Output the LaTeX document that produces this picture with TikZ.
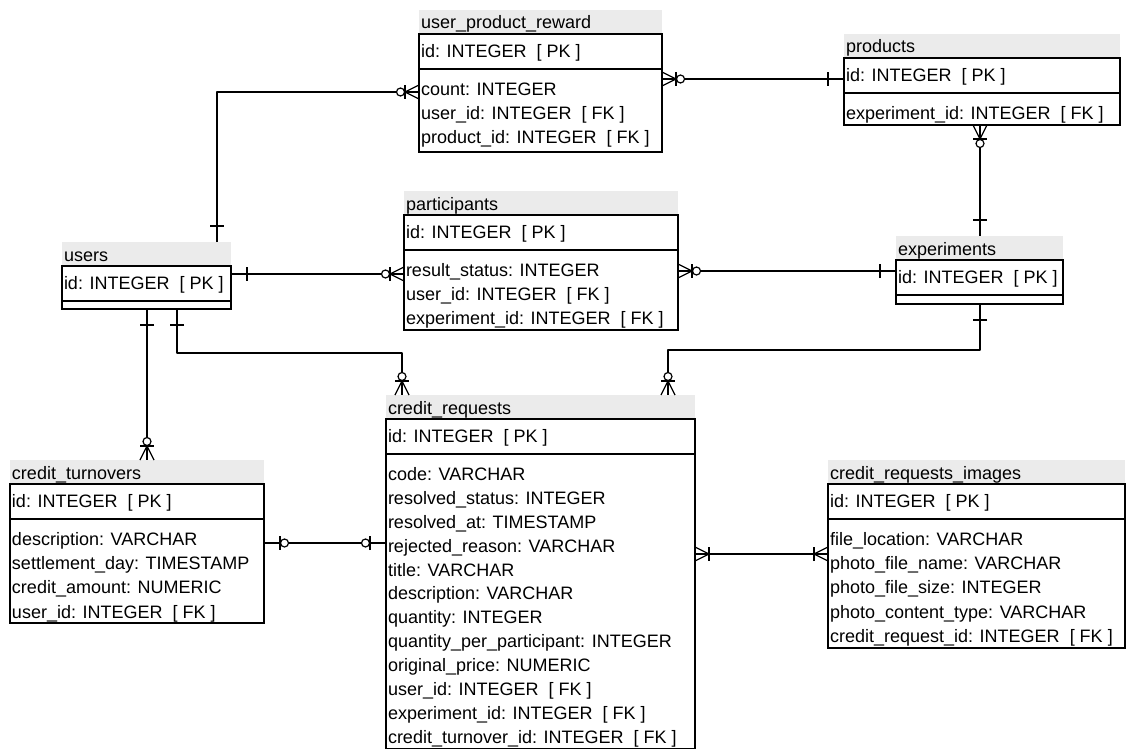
\documentclass[tikz,border=0pt]{standalone}
\usepackage{fontspec}
\setmainfont{Liberation Sans}
\usetikzlibrary{calc}
\definecolor{bandgray}{HTML}{EBEBEB}
\tikzset{
  bandbox/.style={fill=bandgray, draw=none, inner sep=0, outer sep=0, minimum height=24pt},
  tbox/.style={draw=black, line width=1.2pt, fill=white, inner sep=0, outer sep=0},
  tline/.style={draw=black, line width=1.2pt},
  txt/.style={inner sep=0, outer sep=0, anchor=base west, font=\fontsize{18}{22}\selectfont},
  conn/.style={draw=black, line width=1.2pt, line join=round},
  pics/erone/.style={code={\draw[conn] (16,-7) -- (16,7);}},
  pics/erzone/.style={code={\draw[conn] (16,-7) -- (16,7); \draw[conn, fill=white] (20.5,0) circle (4pt);}},
  pics/erzmany/.style={code={\draw[conn] (0,-7) -- (14,0) -- (0,7); \draw[conn] (14,-7) -- (14,7); \draw[conn, fill=white] (18.5,0) circle (4pt);}},
  pics/eromany/.style={code={\draw[conn] (0,-7) -- (14,0) -- (0,7); \draw[conn] (14,-7) -- (14,7);}},
}
% #1 name, #2 left x, #3 width, #4 band top, #5 bottom, #6 title, #7 PK text
\newcommand{\erdtable}[7]{%
  \def\tx{#2}\def\tb{#4}%
  \node[bandbox, minimum width=#3pt, anchor=north west] (#1T) at (#2,#4) {};
  \node[txt] (#1L) at (#2+2,#4+19) {#6};
  \node[tbox, minimum width=#3pt, minimum height={(#5-#4-24)*1pt}, anchor=north west] (#1) at (#2,#4+24) {};
  \draw[tline] (#2,#4+59) -- (#2+#3,#4+59);
  \node[txt] (#1P) at (#2+2,#4+47.9) {#7};
}
\def\rs{24.2}
% #1 node name, #2 row index, #3 text
\newcommand{\erdrow}[3]{%
  \node[txt] (#1) at (\tx+2,\tb+85.4+\rs*#2-\rs) {#3};
}
\begin{document}
\begin{tikzpicture}[x=1pt,y=-1pt]
\useasboundingbox (0,0) rectangle (1127,749);

% ---- tables ----
\erdtable{users}{62}{169}{242}{309}{users}{id: INTEGER~~[ PK ]}

\erdtable{upr}{419}{243}{10}{152}{user\_product\_reward}{id: INTEGER~~[ PK ]}
\erdrow{uprR1}{1}{count: INTEGER}
\erdrow{uprR2}{2}{user\_id: INTEGER~~[ FK ]}
\erdrow{uprR3}{3}{product\_id: INTEGER~~[ FK ]}

\erdtable{products}{844}{276}{34}{125}{products}{id: INTEGER~~[ PK ]}
\erdrow{productsR1}{1}{experiment\_id: INTEGER~~[ FK ]}

\erdtable{participants}{404}{274}{191}{330}{participants}{id: INTEGER~~[ PK ]}
\erdrow{participantsR1}{1}{result\_status: INTEGER}
\erdrow{participantsR2}{2}{user\_id: INTEGER~~[ FK ]}
\erdrow{participantsR3}{3}{experiment\_id: INTEGER~~[ FK ]}

\erdtable{experiments}{896}{167}{236}{304}{experiments}{id: INTEGER~~[ PK ]}

\erdtable{ct}{10}{254}{460}{623}{credit\_turnovers}{id: INTEGER~~[ PK ]}
\erdrow{ctR1}{1}{description: VARCHAR}
\erdrow{ctR2}{2}{settlement\_day: TIMESTAMP}
\erdrow{ctR3}{3}{credit\_amount: NUMERIC}
\erdrow{ctR4}{4}{user\_id: INTEGER~~[ FK ]}

\def\rs{23.9}
\erdtable{cr}{386}{309}{395}{748.4}{credit\_requests}{id: INTEGER~~[ PK ]}
\erdrow{crR1}{1}{code: VARCHAR}
\erdrow{crR2}{2}{resolved\_status: INTEGER}
\erdrow{crR3}{3}{resolved\_at: TIMESTAMP}
\erdrow{crR4}{4}{rejected\_reason: VARCHAR}
\erdrow{crR5}{5}{title: VARCHAR}
\erdrow{crR6}{6}{description: VARCHAR}
\erdrow{crR7}{7}{quantity: INTEGER}
\erdrow{crR8}{8}{quantity\_per\_participant: INTEGER}
\erdrow{crR9}{9}{original\_price: NUMERIC}
\erdrow{crR10}{10}{user\_id: INTEGER~~[ FK ]}
\erdrow{crR11}{11}{experiment\_id: INTEGER~~[ FK ]}
\erdrow{crR12}{12}{credit\_turnover\_id: INTEGER~~[ FK ]}
\def\rs{24.2}

\erdtable{cri}{828}{297}{460}{648}{credit\_requests\_images}{id: INTEGER~~[ PK ]}
\erdrow{criR1}{1}{file\_location: VARCHAR}
\erdrow{criR2}{2}{photo\_file\_name: VARCHAR}
\erdrow{criR3}{3}{photo\_file\_size: INTEGER}
\erdrow{criR4}{4}{photo\_content\_type: VARCHAR}
\erdrow{criR5}{5}{credit\_request\_id: INTEGER~~[ FK ]}

% ---- connectors ----
% users -> user_product_reward
\coordinate (c1a) at ($(usersT.north west)+(155,0)$);
\coordinate (c1b) at ($(upr.north west)+(0,58)$);
\draw[conn] (c1a) |- (c1b);
\pic[rotate=90] at (c1a) {erone};
\pic[rotate=180] at (c1b) {erzmany};

% user_product_reward -> products
\coordinate (c2a) at ($(upr.north east)+(0,45)$);
\coordinate (c2b) at ($(products.north west)+(0,21)$);
\draw[conn] (c2a) -- (c2b);
\pic at (c2a) {erzmany};
\pic[rotate=180] at (c2b) {erone};

% products -> experiments
\coordinate (c3a) at ($(products.south west)+(136,0)$);
\coordinate (c3b) at ($(experimentsT.north west)+(84,0)$);
\draw[conn] (c3a) -- (c3b);
\pic[rotate=270] at (c3a) {erzmany};
\pic[rotate=90] at (c3b) {erone};

% participants -> experiments
\coordinate (c4a) at ($(participants.north east)+(0,56)$);
\coordinate (c4b) at ($(experiments.north west)+(0,11)$);
\draw[conn] (c4a) -- (c4b);
\pic at (c4a) {erzmany};
\pic[rotate=180] at (c4b) {erone};

% users -> participants
\coordinate (c5a) at ($(users.north east)+(0,8)$);
\coordinate (c5b) at ($(participants.north west)+(0,59)$);
\draw[conn] (c5a) -- (c5b);
\pic at (c5a) {erone};
\pic[rotate=180] at (c5b) {erzmany};

% users -> credit_turnovers
\coordinate (c6a) at ($(users.south west)+(85,0)$);
\coordinate (c6b) at ($(ctT.north west)+(137,0)$);
\draw[conn] (c6a) -- (c6b);
\pic[rotate=270] at (c6a) {erone};
\pic[rotate=90] at (c6b) {erzmany};

% users -> credit_requests
\coordinate (c7a) at ($(users.south west)+(115,0)$);
\coordinate (c7b) at ($(crT.north west)+(16,0)$);
\draw[conn] (c7a) -- ++(0,44) -| (c7b);
\pic[rotate=270] at (c7a) {erone};
\pic[rotate=90] at (c7b) {erzmany};

% experiments -> credit_requests
\coordinate (c8a) at ($(experiments.south west)+(84,0)$);
\coordinate (c8b) at ($(crT.north west)+(282,0)$);
\draw[conn] (c8a) -- ++(0,46) -| (c8b);
\pic[rotate=270] at (c8a) {erone};
\pic[rotate=90] at (c8b) {erzmany};

% credit_turnovers -> credit_requests
\coordinate (c9a) at ($(ct.north east)+(0,59)$);
\coordinate (c9b) at ($(cr.north west)+(0,124)$);
\draw[conn] (c9a) -- (c9b);
\pic at (c9a) {erzone};
\pic[rotate=180] at (c9b) {erzone};

% credit_requests -> credit_requests_images
\coordinate (c10a) at ($(cr.north east)+(0,135)$);
\coordinate (c10b) at ($(cri.north west)+(0,70)$);
\draw[conn] (c10a) -- (c10b);
\pic at (c10a) {eromany};
\pic[rotate=180] at (c10b) {eromany};
\end{tikzpicture}
\end{document}
